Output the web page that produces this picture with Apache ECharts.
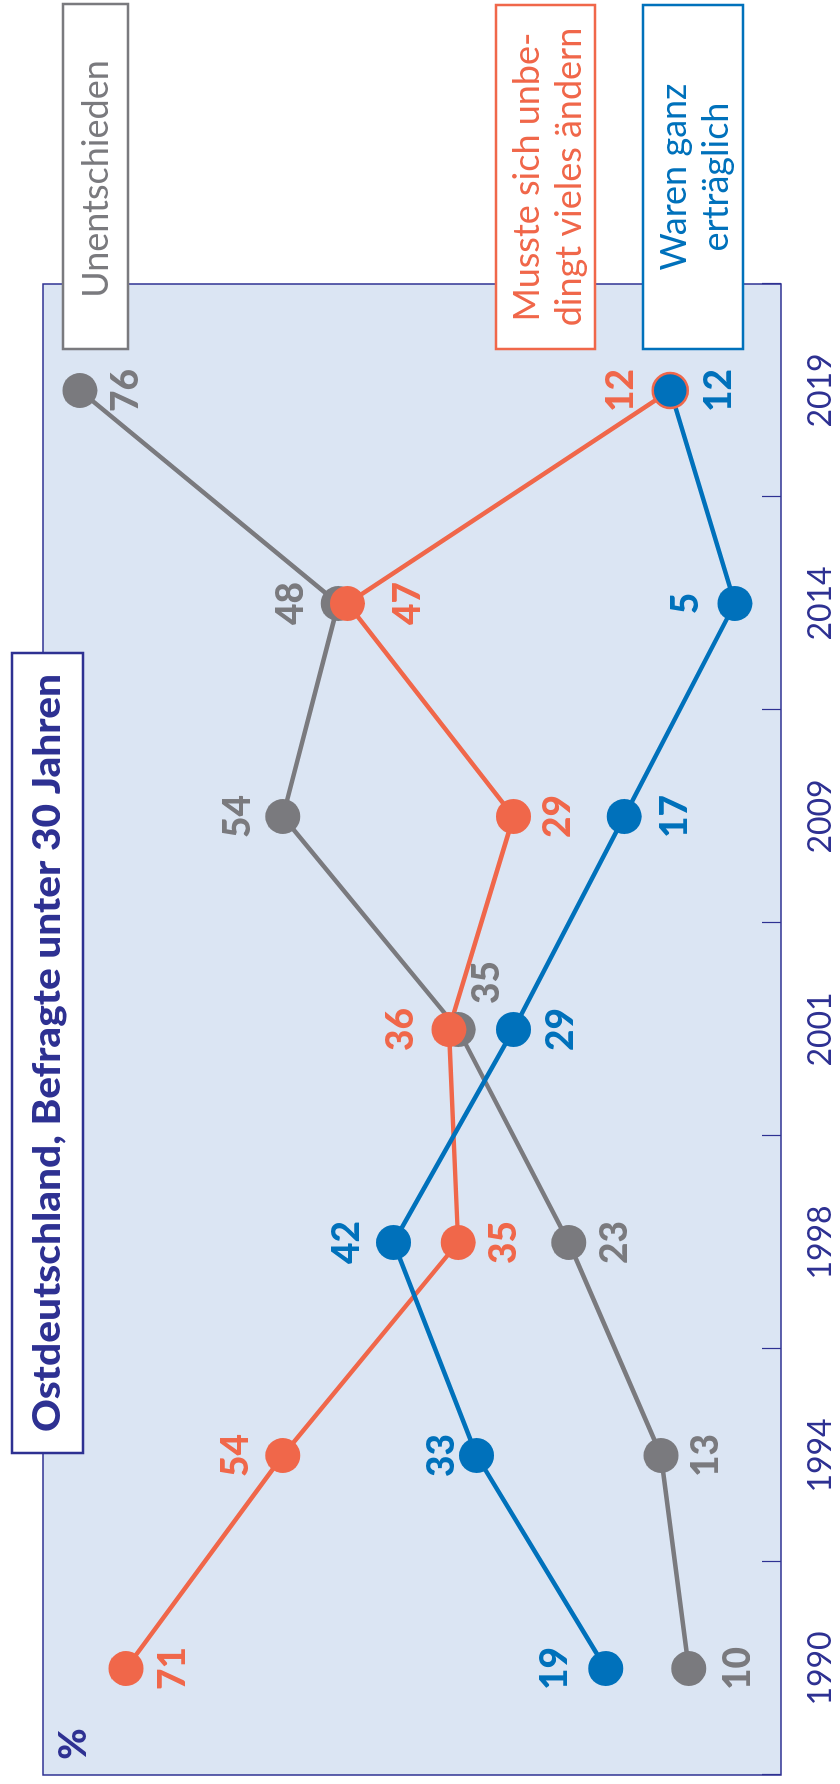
<!DOCTYPE html>
<html>
<head>
<meta charset="utf-8">
<script src="https://cdn.jsdelivr.net/npm/echarts@6/dist/echarts.min.js"></script>
<style>
  html, body { margin: 0; padding: 0; background: #fff; width: 840px; height: 1784px; overflow: hidden; }
  /* chart is laid out landscape and turned a quarter to the left */
  #wrap {
    position: absolute; left: 0; top: 0;
    width: 1784px; height: 840px;
    transform-origin: 0 0;
    transform: translate(0, 1784px) rotate(-90deg);
  }
</style>
</head>
<body>
<div id="wrap"></div>
<script>
const years = ["1990", "1994", "1998", "2001", "2009", "2014", "2019"];
const mussteValues = [71, 54, 35, 36, 29, 47, 12];        // Musste sich unbedingt vieles ändern
const ertraeglichValues = [19, 33, 42, 29, 17, 5, 12];    // Waren ganz erträglich
const unentschiedenValues = [10, 13, 23, 35, 54, 48, 76]; // Unentschieden

// where each number sits relative to its dot: [dx, dy]
const mussteLabelOffset = [[0, 47], [0, -47], [0, 46], [0, -48], [0, 45], [0, 61], [0, -49]];
const ertraeglichLabelOffset = [[0, -51], [0, -35], [0, -46], [0, 48], [0, 51], [0, -49], [0, 49]];
const unentschiedenLabelOffset = [[0, 49], [0, 45], [0, 46], [47, 29], [0, -45], [0, -47], [0, 46]];

const NAVY = "#2e3192";
const ORANGE = "#f0674a";
const BLUE = "#0071bb";
const GRAY = "#7a7a7e";
const FONT = "Lato, 'Liberation Sans', sans-serif";

const titleText = "Ostdeutschland, Befragte unter 30 Jahren";

function measure(text, font) {
  const ctx = document.createElement("canvas").getContext("2d");
  ctx.font = font;
  return ctx.measureText(text).width;
}
const titleScale = 758 / measure(titleText, "900 38px Lato");

function lineSeries(name, values, offsets, color) {
  return {
    name,
    type: "line",
    symbol: "circle",
    symbolSize: 35,
    lineStyle: { color, width: 4.5 },
    itemStyle: { color },
    emphasis: { disabled: true },
    label: {
      show: true,
      position: "inside",
      color,
      fontSize: 37,
      fontWeight: 900,
      fontFamily: FONT,
      textBorderWidth: 0,
    },
    data: values.map((v, i) => ({ value: v, label: { offset: offsets[i] } })),
  };
}

const chart = echarts.init(document.getElementById("wrap"));

const seriesList = [
  lineSeries("Unentschieden", unentschiedenValues, unentschiedenLabelOffset, GRAY),
  lineSeries("Musste sich unbedingt vieles ändern", mussteValues, mussteLabelOffset, ORANGE),
  lineSeries("Waren ganz erträglich", ertraeglichValues, ertraeglichLabelOffset, BLUE),
];
// last blue dot sits on the orange one
seriesList[2].data[6].itemStyle = { borderColor: ORANGE, borderWidth: 2.5 };

function box(x, y, w, h, stroke) {
  return {
    type: "rect",
    z: 100,
    shape: { x, y, width: w, height: h },
    style: { fill: "#fff", stroke, lineWidth: 2.5 },
  };
}
function boxText(x, y, text, color, size, weight) {
  return {
    type: "text",
    z: 101,
    x, y,
    style: {
      text, fill: color, fontSize: size, fontWeight: weight || "normal",
      fontFamily: FONT, align: "center", verticalAlign: "middle", lineHeight: 42,
    },
  };
}

chart.setOption({
  animation: false,
  grid: {
    show: true,
    left: 9, right: 284, top: 43, bottom: 59,
    backgroundColor: "#dbe5f3",
    borderColor: NAVY,
    borderWidth: 1.5,
  },
  xAxis: {
    type: "category",
    data: years,
    boundaryGap: true,
    axisLine: { show: false },
    axisTick: { show: true, inside: true, length: 19, lineStyle: { color: NAVY, width: 1.2 } },
    axisLabel: { color: NAVY, fontSize: 32, fontFamily: FONT, margin: 24 },
    splitLine: { show: false },
  },
  yAxis: {
    type: "value",
    min: 0,
    max: 80,
    show: false,
  },
  series: seriesList,
  graphic: [
    box(331, 12, 800, 71, NAVY),
    {
      type: "text",
      z: 101,
      x: 731, y: 48,
      scaleX: titleScale,
      style: {
        text: titleText, fill: NAVY, fontSize: 38, fontWeight: 900,
        fontFamily: FONT, align: "center", verticalAlign: "middle",
      },
    },
    boxText(40, 74, "%", NAVY, 38, 900),
    box(1435, 63, 345, 65, GRAY),
    boxText(1605, 96, "Unentschieden", GRAY, 36),
    box(1435, 496, 344, 99, ORANGE),
    boxText(1607, 548, "Musste sich unbe-\ndingt vieles ändern", ORANGE, 36),
    box(1435, 643, 344, 100, BLUE),
    boxText(1607, 695, "Waren ganz\nerträglich", BLUE, 36),
  ],
});
</script>
</body>
</html>
